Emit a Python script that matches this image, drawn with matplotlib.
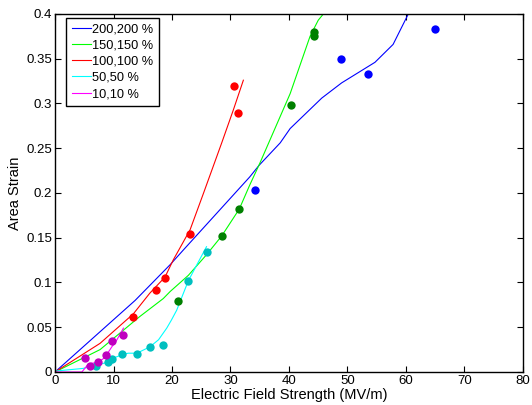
import numpy as np
import matplotlib
matplotlib.use('Agg')
import matplotlib.pyplot as plt

plt.rcParams['font.family'] = ['Liberation Sans', 'DejaVu Sans']

## model curves (field MV/m, area strain)
labels = ['200,200 %', '150,150 %', '100,100 %', '50,50 %', '10,10 %']

x200 = [0, 13.7, 19.7, 21.9, 33.3, 34.9, 38.5, 40.2, 45.6, 49.0, 54.7, 57.8, 60.4, 61.0]
y200 = [0, 0.080, 0.120, 0.136, 0.218, 0.231, 0.256, 0.272, 0.306, 0.323, 0.346, 0.366, 0.400, 0.41]

x150 = [0, 7.7, 12.3, 14.5, 18.5, 19.7, 22.8, 25.9, 28.5, 31.5, 33.3, 35.0, 40.2, 43.6, 45.0, 46.0, 46.5]
y150 = [0, 0.025, 0.050, 0.062, 0.082, 0.090, 0.108, 0.131, 0.152, 0.182, 0.209, 0.233, 0.311, 0.375, 0.393, 0.401, 0.41]

x100 = [0, 7.7, 13.4, 16.2, 18.8, 20.2, 23.1, 25.4, 28.5, 30.5, 32.2]
y100 = [0, 0.032, 0.065, 0.088, 0.106, 0.125, 0.159, 0.200, 0.256, 0.293, 0.326]

x50 = [0, 4.8, 7.4, 9.0, 9.7, 11.4, 12.5, 14.0, 16.2, 17.7, 19.1, 19.9, 20.8, 22.8, 25.9]
y50 = [0.001, 0.004, 0.008, 0.011, 0.015, 0.019, 0.021, 0.021, 0.028, 0.036, 0.049, 0.058, 0.069, 0.102, 0.140]

x10 = [0, 4.6, 5.7, 7.4, 8.5, 9.7, 10.5, 11.7]
y10 = [0, 0, 0.009, 0.011, 0.016, 0.028, 0.035, 0.049]

## measured points
px200 = [34.2, 48.9, 53.5, 65.0]
py200 = [0.203, 0.350, 0.333, 0.383]

px150 = [21.1, 28.5, 31.5, 40.3, 44.2, 44.2]
py150 = [0.079, 0.152, 0.182, 0.298, 0.380, 0.375]

px100 = [13.3, 17.3, 18.8, 23.0, 31.3, 30.6]
py100 = [0.061, 0.092, 0.105, 0.154, 0.289, 0.319]

px50 = [7.0, 9.0, 9.7, 11.4, 14.0, 16.2, 18.5, 22.8, 25.9]
py50 = [0.007, 0.011, 0.015, 0.020, 0.020, 0.028, 0.030, 0.102, 0.134]

px10 = [5.1, 6.0, 7.4, 8.7, 9.8, 11.6]
py10 = [0.016, 0.007, 0.0115, 0.019, 0.035, 0.041]

line_cols = ['#0000ff', '#00ff00', '#ff0000', '#00ffff', '#ff00ff']
dot_cols = ['#0000ff', '#008000', '#ff0000', '#00bfbf', '#bf00bf']

fig = plt.figure(figsize=(5.32, 4.05), dpi=100)
ax = fig.add_axes([0.1034, 0.0815, 0.8796, 0.884])

curves = [(x200, y200), (x150, y150), (x100, y100), (x50, y50), (x10, y10)]
points = [(px200, py200), (px150, py150), (px100, py100), (px50, py50), (px10, py10)]

for (x, y), c, lab in zip(curves, line_cols, labels):
    ax.plot(x, y, color=c, lw=0.8, label=lab)
for (x, y), c in zip(points, dot_cols):
    ax.plot(x, y, 'o', color=c, ms=6, mec='none')

ax.set_xlim(0, 80)
ax.set_ylim(0, 0.4)
ax.set_xticks(np.arange(0, 81, 10))
ax.set_yticks(np.arange(0, 0.41, 0.05))
ax.set_yticklabels(['0', '0.05', '0.1', '0.15', '0.2', '0.25', '0.3', '0.35', '0.4'])
ax.tick_params(direction='in', top=True, right=True, labelsize=9.5, length=4, width=0.8, pad=2)
for s in ax.spines.values():
    s.set_linewidth(1.0)

ax.set_xlabel('Electric Field Strength (MV/m)', fontsize=10.5, labelpad=1)
ax.set_ylabel('Area Strain', fontsize=10.5, labelpad=3)

leg = ax.legend(loc='upper left', fontsize=9.2, fancybox=False, framealpha=1,
                edgecolor='black', handlelength=1.5, handletextpad=0.1,
                labelspacing=0.33, borderpad=0.45, borderaxespad=0.0,
                bbox_to_anchor=(0.024, 0.99))
leg.get_frame().set_linewidth(1.0)

fig.savefig('out.png', dpi=100)
